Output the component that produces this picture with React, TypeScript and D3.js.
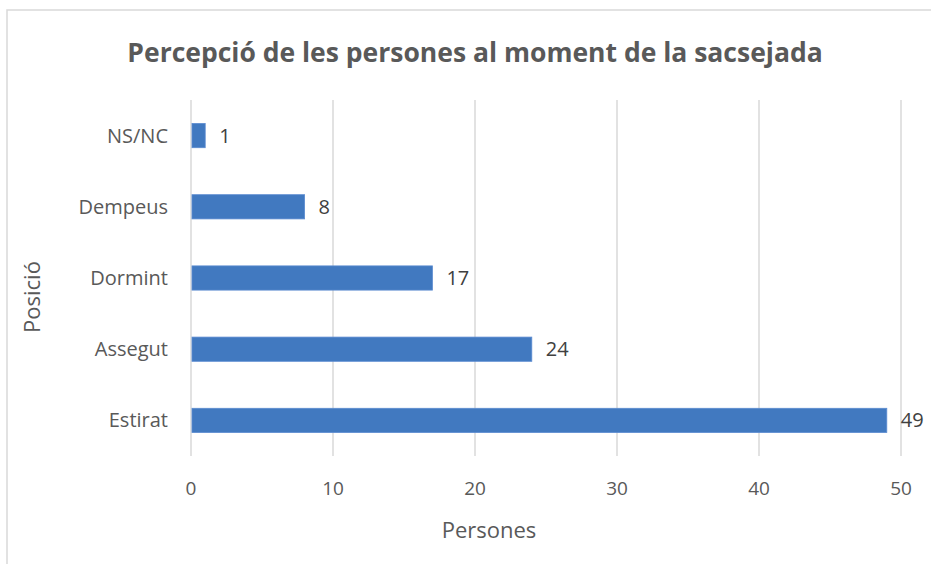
import React from "react";
import * as d3 from "d3";

const categories = ["NS/NC", "Dempeus", "Dormint", "Assegut", "Estirat"];
const values = [1, 8, 17, 24, 49];
const xTicks = [0, 10, 20, 30, 40, 50];

const width = 931;
const height = 564;
const font = "'Open Sans', 'Liberation Sans', sans-serif";

export default function App() {
  const x = d3.scaleLinear().domain([0, 50]).range([191, 901]);
  const y = d3.scaleBand().domain(categories).range([100, 456]).paddingInner(0.66).paddingOuter(0.33);

  return (
    <svg width={width} height={height} style={{ position: "absolute", left: 0, top: 0, background: "#fff" }}>
      <rect x={7} y={10} width={1000} height={1000} fill="#fff" stroke="#d9d9d9" strokeWidth={1.5} />
      <text x={475} y={62} textAnchor="middle" fontFamily={font} fontWeight="bold" fontSize={26.5} fill="#595959">
        Percepció de les persones al moment de la sacsejada
      </text>
      {xTicks.map(t => (
        <g key={t}>
          <line x1={x(t)} x2={x(t)} y1={100} y2={456} stroke="#d9d9d9" strokeWidth={1.5} />
          <text x={x(t)} y={495} textAnchor="middle" fontFamily={font} fontSize={19} fill="#595959">{t}</text>
        </g>
      ))}
      {categories.map((c, i) => (
        <g key={c}>
          <rect x={x(0) + 1} y={y(c)} width={x(values[i]) - x(0) - 1} height={y.bandwidth()} fill="#4179c0" stroke="#5b8bd0" strokeWidth={0.8} />
          <text x={168} y={y(c)! + y.bandwidth() / 2 + 7} textAnchor="end" fontFamily={font} fontSize={20} fill="#595959">{c}</text>
          <text x={x(values[i]) + 14} y={y(c)! + y.bandwidth() / 2 + 7} fontFamily={font} fontSize={20} fill="#404040">{values[i]}</text>
        </g>
      ))}
      <text x={489} y={538} textAnchor="middle" fontFamily={font} fontSize={22} fill="#595959">Persones</text>
      <text transform="translate(40,297) rotate(-90)" textAnchor="middle" fontFamily={font} fontSize={22} fill="#595959">Posició</text>
    </svg>
  );
}
